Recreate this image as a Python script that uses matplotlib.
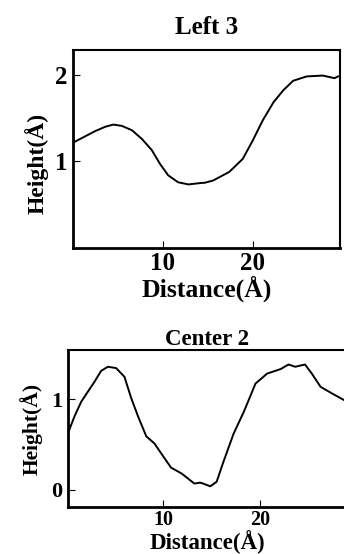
# Height profiles along two scan lines (Left 3 / Center 2)
import matplotlib.pyplot as plt

# profile "Left 3"
left_dist = [0.0, 0.26, 1.37, 2.48, 3.6, 4.5, 5.44, 6.56, 7.67, 8.78, 9.7, 10.6, 11.7,
             12.85, 14.1, 14.7, 15.6, 17.4, 18.9, 20.0, 21.1, 22.3, 23.4, 24.5, 26.0,
             27.8, 29.1, 29.5]
left_height = [1.22, 1.23, 1.29, 1.35, 1.40, 1.425, 1.41, 1.36, 1.26, 1.13, 0.97, 0.84,
               0.76, 0.735, 0.75, 0.755, 0.78, 0.88, 1.03, 1.24, 1.47, 1.68, 1.82, 1.93,
               1.98, 1.99, 1.96, 1.98]

# profile "Center 2"
center_dist = [0.17, 0.86, 1.55, 2.23, 2.92, 3.6, 4.3, 5.15, 6.0, 6.7, 7.4, 8.25, 9.1,
               9.8, 10.8, 11.9, 13.2, 13.8, 14.1, 14.85, 15.5, 16.2, 17.25, 18.3, 19.5,
               20.7, 22.1, 22.9, 23.6, 24.6, 25.3, 26.2, 27.4, 28.6, 28.9]
center_height = [0.62, 0.81, 0.97, 1.08, 1.19, 1.31, 1.355, 1.34, 1.245, 1.01, 0.81, 0.59,
                 0.51, 0.40, 0.245, 0.18, 0.07, 0.08, 0.07, 0.04, 0.09, 0.31, 0.62, 0.86,
                 1.17, 1.28, 1.33, 1.38, 1.355, 1.38, 1.28, 1.135, 1.06, 0.99, 0.97]

plt.rcParams['font.family'] = ['Liberation Serif', 'DejaVu Serif']
plt.rcParams['font.weight'] = 'bold'

fig = plt.figure(figsize=(3.44, 5.54), dpi=100)


def style_axes(ax, tick_size, x_tick_size, x_pad=3):
    ax.spines['left'].set_linewidth(2.0)
    ax.spines['bottom'].set_linewidth(2.0)
    ax.spines['top'].set_linewidth(1.5)
    ax.spines['right'].set_linewidth(1.5)
    ax.tick_params(direction='in', length=5, width=0.8, pad=4)
    ax.tick_params(axis='y', labelsize=tick_size)
    ax.tick_params(axis='x', labelsize=x_tick_size, pad=x_pad)
    for lab in ax.get_xticklabels() + ax.get_yticklabels():
        lab.set_fontweight('bold')


# top panel
ax1 = fig.add_axes([0.212, 0.552, 0.776, 0.357])
ax1.plot(left_dist, left_height, color='black', lw=1.4)
ax1.set_xlim(0, 29.7)
ax1.set_ylim(0, 2.28)
ax1.set_xticks([10, 20])
ax1.set_yticks([1, 2])
style_axes(ax1, 18, 18)
ax1.set_title('Left 3', fontsize=18, fontweight='bold', pad=12)
ax1.set_xlabel('Distance(Å)', fontsize=18.5, fontweight='bold', labelpad=0)
ax1.set_ylabel('Height(Å)', fontsize=17, fontweight='bold')
ax1.yaxis.set_label_coords(-0.09, 0.43)

# bottom panel
ax2 = fig.add_axes([0.198, 0.085, 0.81, 0.283])
ax2.plot(center_dist, center_height, color='black', lw=1.4)
ax2.set_xlim(0.2, 28.9)
ax2.set_ylim(-0.187, 1.538)
ax2.set_xticks([10, 20])
ax2.set_yticks([0, 1])
style_axes(ax2, 16, 14.5, x_pad=2)
ax2.set_title('Center 2', fontsize=16.5, fontweight='bold', pad=4)
ax2.set_xlabel('Distance(Å)', fontsize=16.5, fontweight='bold', labelpad=0)
ax2.set_ylabel('Height(Å)', fontsize=15.5, fontweight='bold')
ax2.yaxis.set_label_coords(-0.09, 0.5)

fig.savefig('out.png', dpi=100)
